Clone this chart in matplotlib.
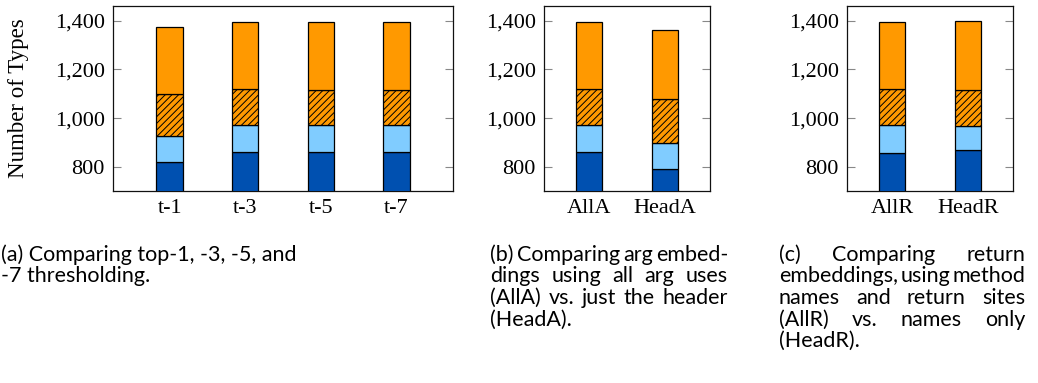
import matplotlib
matplotlib.use("Agg")
import matplotlib.pyplot as plt
import numpy as np

# ---------------- data ----------------
cats_a = ["t-1", "t-3", "t-5", "t-7"]
cats_b = ["AllA", "HeadA"]
cats_c = ["AllR", "HeadR"]

# stacked segment sizes (bottom -> top)
dark_a  = [819, 859, 859, 859]
light_a = [107, 111, 113, 113]
hatch_a = [173, 150, 144, 144]
top_a   = [276, 274, 278, 278]

dark_b  = [859, 792]
light_b = [111, 107]
hatch_b = [150, 178]
top_b   = [274, 286]

dark_c  = [858, 867]
light_c = [112, 102]
hatch_c = [149, 148]
top_c   = [275, 284]

yticks = [800, 1000, 1200, 1400]
ytick_labels = ["800", "1,000", "1,200", "1,400"]
ylabel = "Number of Types"

cap_a = ["(a) Comparing top-1, -3, -5, and", "-7 thresholding."]
cap_b = ["(b) Comparing arg embed-", "dings using all arg uses",
         "(AllA) vs. just the header", "(HeadA)."]
cap_c = ["(c) Comparing return", "embeddings, using method",
         "names and return sites", "(AllR) vs. names only", "(HeadR)."]

# ---------------- style ----------------
C_DARK = "#0050B0"
C_LIGHT = "#80CCFF"
C_ORANGE = "#FF9900"
SERIF = ["Liberation Serif", "DejaVu Serif"]
SANS = ["Lato", "DejaVu Sans"]

plt.rcParams["font.family"] = SERIF
plt.rcParams["hatch.linewidth"] = 0.7
plt.rcParams["hatch.color"] = "black"

W, H = 1038, 383
fig = plt.figure(figsize=(W / 100, H / 100), dpi=100)


def px_axes(l, r, t, b):
    return fig.add_axes([l / W, 1 - b / H, (r - l) / W, (b - t) / H])


def draw_panel(ax, cats, dark, light, hatch, top, xlim):
    x = np.arange(len(cats))
    wid = 0.35
    kw = dict(width=wid, edgecolor="black", linewidth=0.9, zorder=3)
    b0 = np.zeros(len(cats))
    ax.bar(x, dark, bottom=b0, color=C_DARK, **kw)
    b0 = b0 + np.array(dark)
    ax.bar(x, light, bottom=b0, color=C_LIGHT, **kw)
    b0 = b0 + np.array(light)
    ax.bar(x, hatch, bottom=b0, color=C_ORANGE, hatch="/////", **kw)
    b0 = b0 + np.array(hatch)
    ax.bar(x, top, bottom=b0, color=C_ORANGE, **kw)
    ax.set_xlim(*xlim)
    ax.set_ylim(700, 1463)
    ax.set_xticks(x)
    ax.set_xticklabels(cats)
    ax.set_yticks(yticks)
    ax.set_yticklabels(ytick_labels)
    ax.tick_params(axis="both", labelsize=16)
    ax.tick_params(axis="x", length=0, pad=6)
    ax.tick_params(axis="y", direction="in", length=6, width=0.8,
                   color="#888888", pad=5.8, left=True, right=True)
    for s in ax.spines.values():
        s.set_linewidth(0.9)
        s.set_color("#111111")


ax_a = px_axes(113, 453, 5.5, 191)
draw_panel(ax_a, cats_a, dark_a, light_a, hatch_a, top_a, (-0.75, 3.75))
ax_b = px_axes(544, 710, 5.5, 191)
draw_panel(ax_b, cats_b, dark_b, light_b, hatch_b, top_b, (-0.6, 1.6))
ax_c = px_axes(847, 1013, 5.5, 191)
draw_panel(ax_c, cats_c, dark_c, light_c, hatch_c, top_c, (-0.6, 1.6))

fig.text(19 / W, 1 - 98 / H, ylabel, rotation=90, ha="center", va="center",
         fontsize=16.5)

# ---------------- captions (justified) ----------------
renderer = fig.canvas.get_renderer()


def text_width(s, size):
    t = fig.text(0, 0, s, fontfamily=SANS, fontsize=size)
    w = t.get_window_extent(renderer).width
    t.remove()
    return w


# fit font size so the natural width of a reference line matches
ref_w = text_width(cap_b[0], 10)
CAP_SIZE = 10 * 246 / ref_w

baselines = [261, 282.5, 304, 325.5, 347]


def caption(lines, x0, x1, justify_last=False, justify=True):
    for i, line in enumerate(lines):
        y = 1 - baselines[i] / H
        last = (i == len(lines) - 1)
        if not justify or (last and not justify_last):
            fig.text(x0 / W, y, line, fontfamily=SANS, fontsize=CAP_SIZE,
                     ha="left", va="baseline")
            continue
        words = line.split(" ")
        widths = [text_width(wd, CAP_SIZE) for wd in words]
        gap = (x1 - x0 - sum(widths)) / max(len(words) - 1, 1)
        x = x0
        for wd, w in zip(words, widths):
            fig.text(x / W, y, wd, fontfamily=SANS, fontsize=CAP_SIZE,
                     ha="left", va="baseline")
            x += w + gap


caption(cap_a, 1, 316, justify=False)
caption(cap_b, 490, 728)
caption(cap_c, 779, 1025)

fig.savefig("out.png", dpi=100)
